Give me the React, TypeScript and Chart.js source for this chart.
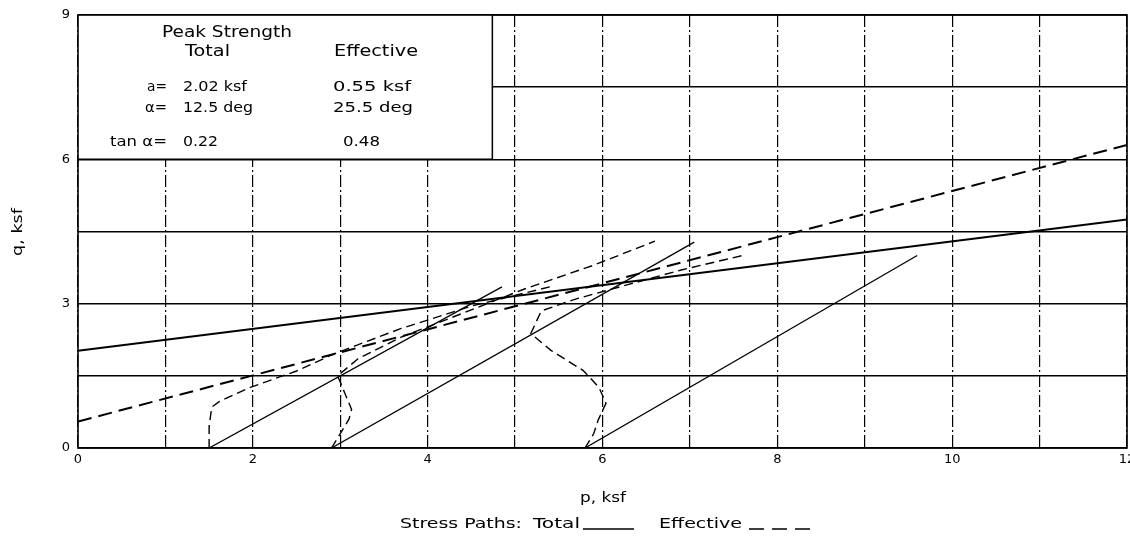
import React, { useEffect, useRef } from 'react';
import { Chart, registerables } from 'chart.js';

Chart.register(...registerables);

// ---- axis ranges / ticks ----
const pMin = 0;
const pMax = 12;
const pStep = 1;
const qMin = 0;
const qMax = 9;
const qStep = 1.5;

// ---- failure envelopes (p, q in ksf) ----
const totalEnvP = [0, 12];
const totalEnvQ = [2.02, 4.75];
const effEnvP = [0, 12];
const effEnvQ = [0.55, 6.3];

// ---- total stress paths ----
const total1P = [1.5, 4.85];
const total1Q = [0, 3.35];
const total2P = [2.9, 7.05];
const total2Q = [0, 4.28];
const total3P = [5.8, 9.6];
const total3Q = [0, 4.0];

// ---- effective stress paths ----
const eff1P = [1.5, 1.5, 1.53, 1.62, 1.97, 2.5, 2.92, 3.69, 4.5, 5.4];
const eff1Q = [0, 0.45, 0.85, 0.97, 1.26, 1.6, 1.95, 2.48, 2.95, 3.35];
const eff2P = [2.9, 3.0, 3.1, 3.13, 3.05, 2.97, 3.2, 3.69, 4.4, 5.1, 5.9, 6.6];
const eff2Q = [0, 0.3, 0.6, 0.8, 1.15, 1.5, 1.85, 2.3, 2.8, 3.3, 3.8, 4.3];
const eff3P = [5.8, 5.9, 5.95, 6.04, 5.96, 5.78, 5.41, 5.18, 5.3, 5.7, 6.3, 6.9, 7.6];
const eff3Q = [0, 0.3, 0.58, 0.93, 1.26, 1.61, 2.03, 2.38, 2.85, 3.1, 3.4, 3.7, 4.0];

// ---- info box text ----
const boxTitle = 'Peak Strength';
const boxHeaders = ['Total', 'Effective'];
const boxLabels = ['a=', 'α=', 'tan α='];
const boxTotal = ['2.02 ksf', '12.5 deg', '0.22'];
const boxEffective = ['0.55 ksf', '25.5 deg', '0.48'];
const boxRightP = 4.74;
const boxBottomQ = 6;

const xTitle = 'p, ksf';
const yTitle = 'q, ksf';
const legendPrefix = 'Stress Paths:';
const legendTotal = 'Total';
const legendEffective = 'Effective';

const FONT = '"DejaVu Sans", "Liberation Sans", Arial, sans-serif';

function pts(xs: number[], ys: number[]) {
  return xs.map((x, i) => ({ x, y: ys[i] }));
}

function fitText(ctx: CanvasRenderingContext2D, text: string, x: number, y: number, w: number, size: number) {
  ctx.save();
  ctx.font = `${size}px ${FONT}`;
  const m = ctx.measureText(text).width || 1;
  ctx.translate(x, y);
  ctx.scale(w / m, 1);
  ctx.textAlign = 'left';
  ctx.textBaseline = 'middle';
  ctx.fillStyle = '#000';
  ctx.fillText(text, 0, 0);
  ctx.restore();
}

const overlayPlugin = {
  id: 'overlay',
  beforeDatasetsDraw(chart: any) {
    const { ctx, chartArea, scales } = chart;
    const xs = scales.x;
    const ys = scales.y;
    const right = xs.getPixelForValue(boxRightP);
    const bottom = ys.getPixelForValue(boxBottomQ);
    ctx.save();
    ctx.fillStyle = '#fff';
    ctx.fillRect(chartArea.left, chartArea.top, right - chartArea.left, bottom - chartArea.top);
    ctx.strokeStyle = '#000';
    ctx.lineWidth = 1.5;
    ctx.beginPath();
    ctx.moveTo(right, chartArea.top);
    ctx.lineTo(right, bottom);
    ctx.moveTo(chartArea.left, bottom);
    ctx.lineTo(right, bottom);
    ctx.stroke();
    ctx.restore();

    // texts
    fitText(ctx, boxTitle, 162, 33, 130, 15);
    fitText(ctx, boxHeaders[0], 185, 52, 45, 15);
    fitText(ctx, boxHeaders[1], 334, 52, 84, 15);
    const rowsY = [87, 108, 142];
    const labelW = [20, 22, 57];
    const totW = [64, 70, 35];
    const effW = [78, 80, 37];
    const effX = [333, 333, 343];
    for (let i = 0; i < 3; i++) {
      fitText(ctx, boxLabels[i], 167 - labelW[i], rowsY[i], labelW[i], 14);
      fitText(ctx, boxTotal[i], 183, rowsY[i], totW[i], 14);
      fitText(ctx, boxEffective[i], effX[i], rowsY[i], effW[i], 14);
    }
  },
  afterDraw(chart: any) {
    const { ctx, chartArea } = chart;
    ctx.save();
    ctx.strokeStyle = '#000';
    ctx.lineWidth = 1.6;
    ctx.strokeRect(chartArea.left, chartArea.top, chartArea.right - chartArea.left, chartArea.bottom - chartArea.top);

    // axis titles
    fitText(ctx, xTitle, 580, 498, 46, 14);
    ctx.save();
    ctx.translate(18, 232);
    ctx.rotate(-Math.PI / 2);
    fitText(ctx, yTitle, -24, 0, 48, 14);
    ctx.restore();

    // legend
    fitText(ctx, legendPrefix, 400, 524, 122, 14);
    fitText(ctx, legendTotal, 533, 524, 47, 14);
    ctx.strokeStyle = '#000';
    ctx.lineWidth = 1.5;
    ctx.setLineDash([]);
    ctx.beginPath();
    ctx.moveTo(583, 529);
    ctx.lineTo(634, 529);
    ctx.stroke();
    fitText(ctx, legendEffective, 659, 524, 83, 14);
    ctx.setLineDash([15, 8]);
    ctx.beginPath();
    ctx.moveTo(749, 529);
    ctx.lineTo(814, 529);
    ctx.stroke();
    ctx.restore();
  },
};

export default function App() {
  const ref = useRef<HTMLCanvasElement | null>(null);

  useEffect(() => {
    if (!ref.current) return;
    const solid = (data: any, w: number) => ({
      data,
      showLine: true,
      borderColor: '#000',
      backgroundColor: '#000',
      borderWidth: w,
      pointRadius: 0,
      fill: false,
      tension: 0,
    });
    const dashed = (data: any, w: number, dash: number[]) => ({
      ...solid(data, w),
      borderDash: dash,
    });

    const chart = new Chart(ref.current, {
      type: 'scatter',
      data: {
        datasets: [
          { label: 'Total envelope', ...solid(pts(totalEnvP, totalEnvQ), 2) },
          { label: 'Effective envelope', ...dashed(pts(effEnvP, effEnvQ), 2, [14, 7]) },
          { label: 'Total 1', ...solid(pts(total1P, total1Q), 1.3) },
          { label: 'Total 2', ...solid(pts(total2P, total2Q), 1.3) },
          { label: 'Total 3', ...solid(pts(total3P, total3Q), 1.3) },
          { label: 'Effective 1', ...dashed(pts(eff1P, eff1Q), 1.4, [9, 5]) },
          { label: 'Effective 2', ...dashed(pts(eff2P, eff2Q), 1.4, [9, 5]) },
          { label: 'Effective 3', ...dashed(pts(eff3P, eff3Q), 1.4, [9, 5]) },
        ],
      } as any,
      options: {
        animation: false,
        responsive: false,
        maintainAspectRatio: false,
        layout: { padding: { top: 15, right: 3, left: 0, bottom: 0 } },
        plugins: { legend: { display: false }, tooltip: { enabled: false } },
        scales: {
          x: {
            type: 'linear',
            min: pMin,
            max: pMax,
            ticks: {
              stepSize: pStep,
              autoSkip: false,
              maxRotation: 0,
              padding: 4,
              color: '#000',
              font: { family: FONT, size: 13 },
              callback: (v: any) => (Number(v) % 2 === 0 ? String(v) : ''),
            },
            grid: { color: '#000', lineWidth: 1.2, drawTicks: false },
            border: { display: false, dash: [12, 3, 2, 3] },
            afterFit: (s: any) => {
              s.height = 88;
              s.paddingLeft = 0;
              s.paddingRight = 0;
            },
          },
          y: {
            type: 'linear',
            min: qMin,
            max: qMax,
            ticks: {
              stepSize: qStep,
              autoSkip: false,
              padding: 8,
              color: '#000',
              font: { family: FONT, size: 13 },
              callback: (v: any) => (Number(v) % 3 === 0 ? String(v) : ''),
            },
            grid: { color: '#000', lineWidth: 1.4, drawTicks: false },
            border: { display: false },
            afterFit: (s: any) => {
              s.width = 78;
              s.paddingTop = 0;
              s.paddingBottom = 0;
            },
          },
        },
      } as any,
      plugins: [overlayPlugin],
    });
    return () => chart.destroy();
  }, []);

  return (
    <div style={{ position: 'absolute', left: 0, top: 0, width: 1130, height: 536, background: '#fff' }}>
      <canvas ref={ref} width={1130} height={536} style={{ width: 1130, height: 536, display: 'block' }} />
    </div>
  );
}
